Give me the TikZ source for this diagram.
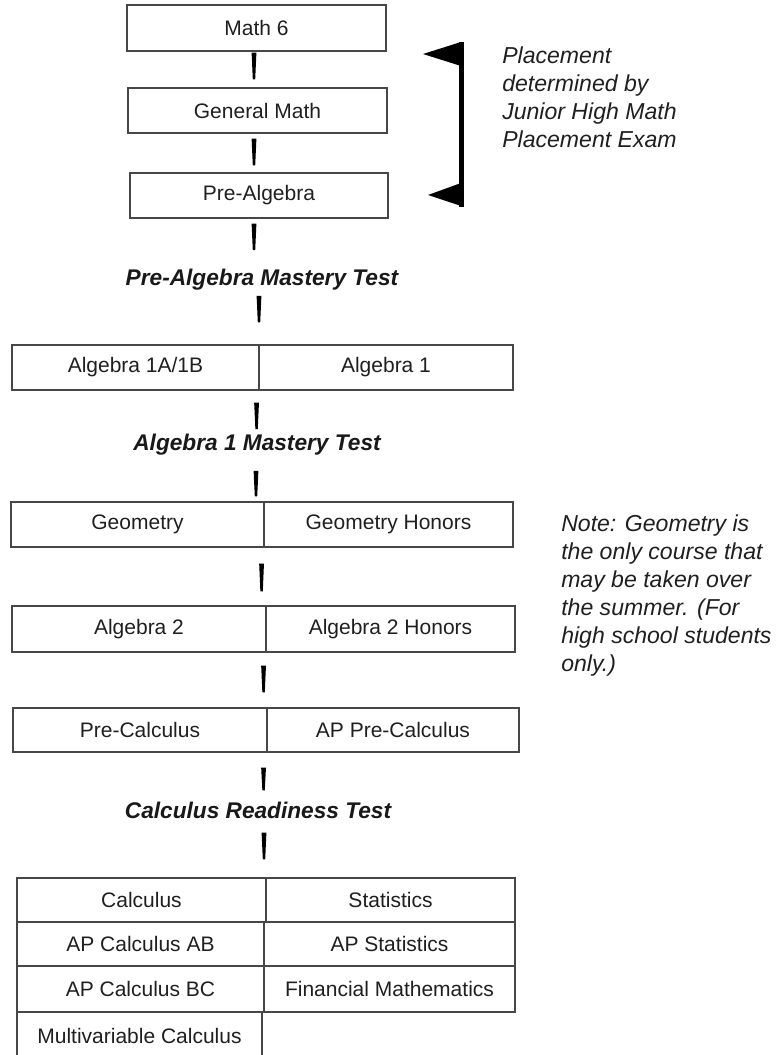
\documentclass[tikz,border=0pt]{standalone}
\usepackage{fontspec}
\setmainfont{Liberation Sans}
\usetikzlibrary{calc}
\newlength\upx
\setlength\upx{0.75pt}
\begin{document}
\begin{tikzpicture}[x=0.75pt,y=-0.75pt,
  cell/.style={draw=black!72, line width=0.85pt, inner sep=0pt, text=black!88,
    font=\fontsize{15.75}{19}\selectfont},
  testlabel/.style={inner sep=0pt, text=black!90,
    font=\fontsize{17}{20}\selectfont\bfseries\itshape},
  side/.style={inner sep=0pt, anchor=north west, align=left, text=black!88,
    font=\fontsize{17.3}{21}\selectfont\itshape},
  taper/.style={to path={let \p1=(\tikztostart), \p2=(\tikztotarget) in
    (\x1-1.8pt,\y1) -- (\x1+1.8pt,\y1) -- (\x1+0.9pt,\y2) -- (\x1-0.9pt,\y2) -- cycle}},
  conn/.style={fill=black}
]
\useasboundingbox (0,0) rectangle (779,1055);
\clip (0,0) rectangle (779,1055);

% single course boxes
\node[cell, minimum width=259\upx, minimum height=46\upx] (m6) at (256.5,28) {Math 6};
\node[cell, minimum width=259\upx, minimum height=45\upx] (gm) at (257.5,110.5) {General Math};
\node[cell, minimum width=258\upx, minimum height=45\upx] (pa) at (259,195.5) {Pre-Algebra};

\node[testlabel] (t1) at (262,280) {Pre-Algebra Mastery Test};

\node[cell, minimum width=247\upx, minimum height=45\upx] (a1l) at (135.5,367.5) {Algebra 1A/1B};
\node[cell, minimum width=254\upx, minimum height=45\upx] (a1r) at (386,367.5) {Algebra 1};

\node[testlabel] (t2) at (257,445) {Algebra 1 Mastery Test};

\node[cell, minimum width=253\upx, minimum height=45\upx] (gl) at (137.5,524.5) {Geometry};
\node[cell, minimum width=249\upx, minimum height=45\upx] (gr) at (388.5,524.5) {Geometry Honors};

\node[cell, minimum width=254\upx, minimum height=46\upx] (a2l) at (139,629) {Algebra 2};
\node[cell, minimum width=249\upx, minimum height=46\upx] (a2r) at (390.5,629) {Algebra 2 Honors};

\node[cell, minimum width=254\upx, minimum height=44\upx] (pcl) at (140,730) {Pre-Calculus};
\node[cell, minimum width=252\upx, minimum height=44\upx] (pcr) at (393,730) {AP Pre-Calculus};

\node[testlabel] (t3) at (258,810) {Calculus Readiness Test};

\node[cell, minimum width=249\upx, minimum height=44\upx] (c11) at (141.5,900) {Calculus};
\node[cell, minimum width=249\upx, minimum height=44\upx] (c12) at (390.5,900) {Statistics};
\node[cell, minimum width=247\upx, minimum height=44\upx] (c21) at (140.5,944) {AP Calculus AB};
\node[cell, minimum width=251\upx, minimum height=44\upx] (c22) at (389.5,944) {AP Statistics};
\node[cell, minimum width=247\upx, minimum height=46\upx] (c31) at (140.5,989) {AP Calculus BC};
\node[cell, minimum width=251\upx, minimum height=46\upx] (c32) at (389.5,989) {Financial Mathematics};
\node[cell, minimum width=245\upx, minimum height=48\upx] (c41) at (139.5,1036) {Multivariable Calculus};

% connectors
\path[conn] ([xshift=-2.5\upx,yshift=-1\upx]m6.south) to[taper] ([yshift=8\upx]gm.north);
\path[conn] ([xshift=-3.5\upx,yshift=-5\upx]gm.south) to[taper] ([yshift=7\upx]pa.north);
\path[conn] ([xshift=-5\upx,yshift=-5\upx]pa.south) to[taper] ([yshift=19\upx]t1.north);
\path[conn] ([xshift=-3\upx,yshift=-5\upx]t1.south) to[taper] ([yshift=22\upx]a1l.north east);
\path[conn] ([xshift=-3\upx,yshift=-12\upx]a1l.south east) to[taper] ([yshift=5\upx]t2.north);
\path[conn] ([xshift=-1\upx,yshift=-15\upx]t2.south) to[taper] ([yshift=5\upx]gl.north east);
\path[conn] ([xshift=-3\upx,yshift=-16\upx]gl.south east) to[taper] ([yshift=14\upx]a2l.north east);
\path[conn] ([xshift=-3\upx,yshift=-13\upx]a2l.south east) to[taper] ([yshift=15\upx]pcl.north east);
\path[conn] ([xshift=-4\upx,yshift=-15\upx]pcl.south east) to[taper] ([yshift=11\upx]t3.north);
\path[conn] ([xshift=6\upx,yshift=-14\upx]t3.south) to[taper] ([yshift=18\upx]c11.north east);

% bracket
\fill[black] (461,42) -- (423,54) -- (461,66) -- cycle;
\fill[black] (458.5,42) rectangle (463.5,207);
\fill[black] (461,183) -- (428,195) -- (464,207) -- cycle;

% side notes
\node[side] (place) at (502,47) {Placement\\determined by\\Junior High Math\\Placement Exam};
\node[side] (note) at (561,515) {Note: Geometry is\\the only course that\\may be taken over\\the summer. (For\\high school students\\only.)};
\end{tikzpicture}
\end{document}
